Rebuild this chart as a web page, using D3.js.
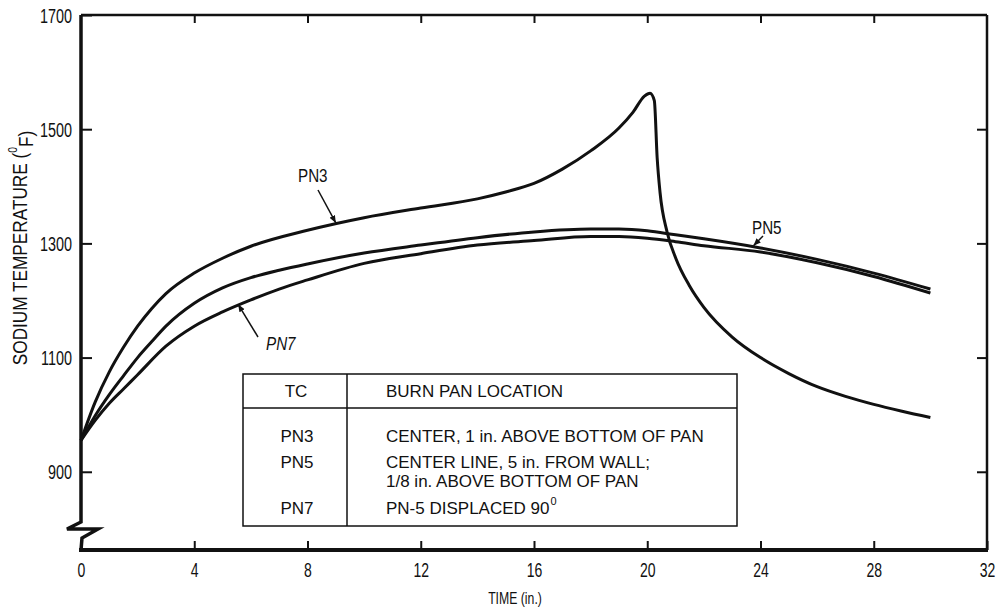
<!DOCTYPE html>
<html>
<head>
<meta charset="utf-8">
<script src="https://cdn.jsdelivr.net/npm/d3@7"></script>
<style>
  body { margin: 0; background: #fff; }
  svg text { font-family: "Liberation Sans", Arial, sans-serif; fill: #111; }
</style>
</head>
<body>
<svg id="chart" width="1003" height="611"></svg>
<script>
// time (in.) values and sodium temperatures (F)
const pn3Time = [0, 0.5, 1, 1.5, 2, 2.5, 3, 4, 5, 6, 8, 10, 12, 14, 15, 16, 17, 18, 19, 19.5, 19.9, 20.1, 20.25, 20.35, 20.45, 20.7, 21, 21.5, 22, 23, 24, 25, 26, 27, 28, 29, 30];
const pn3Temp = [955, 1022, 1075, 1118, 1155, 1186, 1212, 1248, 1274, 1295, 1323, 1345, 1362, 1378, 1390, 1405, 1430, 1462, 1502, 1530, 1558, 1563, 1550, 1450, 1390, 1320, 1275, 1225, 1188, 1136, 1100, 1072, 1049, 1032, 1018, 1006, 995];

const pn5Time = [0, 0.5, 1, 1.5, 2, 2.5, 3, 4, 5, 6, 7, 8, 10, 12, 14, 16, 18, 19, 20, 21, 22, 24, 26, 28, 30];
const pn5Temp = [955, 998, 1035, 1068, 1100, 1128, 1155, 1195, 1222, 1240, 1253, 1264, 1283, 1297, 1310, 1320, 1325, 1325, 1322, 1315, 1308, 1292, 1272, 1248, 1220];

const pn7Time = [0, 0.5, 1, 1.5, 2, 3, 4, 5, 6, 7, 8, 10, 12, 14, 16, 18, 19, 20, 21, 22, 24, 26, 28, 30];
const pn7Temp = [955, 990, 1020, 1045, 1070, 1120, 1155, 1180, 1201, 1220, 1236, 1265, 1282, 1297, 1305, 1312, 1312, 1309, 1303, 1296, 1285, 1266, 1242, 1213];

const xTicks = [0, 4, 8, 12, 16, 20, 24, 28, 32];
const yTicks = [900, 1100, 1300, 1500, 1700];

const tableHeader = ["TC", "BURN PAN LOCATION"];
const tableRows = [
    ["PN3", ["CENTER, 1 in. ABOVE BOTTOM OF PAN"]],
    ["PN5", ["CENTER LINE, 5 in. FROM WALL;", "1/8 in. ABOVE BOTTOM OF PAN"]],
    ["PN7", ["PN-5 DISPLACED 90", "0"]]
];

const svg = d3.select("#chart");

// squeeze glyphs horizontally to imitate the condensed lettering (plain texts only)
function condense(sel, k) {
    sel.each(function() {
        const len = this.getComputedTextLength();
        d3.select(this).attr("textLength", len * k).attr("lengthAdjust", "spacingAndGlyphs");
    });
}

// plot frame
const margin = { top: 15, right: 16, bottom: 61, left: 81 };
const width = 1003 - margin.left - margin.right;
const height = 611 - margin.top - margin.bottom;

const g = svg.append("g")
    .attr("transform", "translate(" + margin.left + "," + margin.top + ")");

const x = d3.scaleLinear().domain([0, 32]).range([0, width]);
const y = d3.scaleLinear().domain([763, 1700]).range([height, 0]);

// axes (ticks pointing inward)
const xAxis = g.append("g")
    .attr("transform", "translate(0," + height + ")")
    .call(d3.axisBottom(x).tickValues(xTicks).tickSizeInner(-9).tickSizeOuter(0).tickPadding(13));
const yAxis = g.append("g")
    .call(d3.axisLeft(y).tickValues(yTicks).tickFormat(d3.format("d")).tickSizeInner(-11).tickSizeOuter(0).tickPadding(9));
const topAxis = g.append("g")
    .call(d3.axisTop(x).tickValues(xTicks.slice(1, -1)).tickSizeInner(-8).tickSizeOuter(0).tickFormat(""));
const rightAxis = g.append("g")
    .attr("transform", "translate(" + width + ",0)")
    .call(d3.axisRight(y).tickValues(yTicks.slice(0, -1)).tickSizeInner(-10).tickSizeOuter(0).tickFormat(""));

[xAxis, yAxis, topAxis, rightAxis].forEach(a => {
    a.select(".domain").remove();
    a.selectAll(".tick line").attr("stroke", "#111").attr("stroke-width", 2);
    a.selectAll(".tick text").attr("font-size", 20).attr("fill", "#111").attr("font-family", null);
});
yAxis.selectAll(".tick text").attr("dy", "0.36em");
xAxis.selectAll(".tick text").attr("dy", "0.71em");
condense(xAxis.selectAll(".tick text"), 0.7);
condense(yAxis.selectAll(".tick text"), 0.72);

// frame lines, left axis has a scale break near the bottom
const breakTop = y(812);
g.append("path")
    .attr("d", "M0," + y(1700) + "V" + breakTop + "L-14," + (breakTop + 7) + "H17L1," + (breakTop + 16) + "L0," + height)
    .attr("fill", "none").attr("stroke", "#111").attr("stroke-width", 3.5).attr("stroke-linejoin", "miter");
g.append("line")
    .attr("x1", -2).attr("x2", width + 1).attr("y1", height).attr("y2", height)
    .attr("stroke", "#111").attr("stroke-width", 4);
g.append("line")
    .attr("x1", 0).attr("x2", width).attr("y1", 0).attr("y2", 0)
    .attr("stroke", "#111").attr("stroke-width", 2.5);
g.append("line")
    .attr("x1", width).attr("x2", width).attr("y1", 0).attr("y2", height)
    .attr("stroke", "#111").attr("stroke-width", 2.5);

// curves
const line = d3.line()
    .x(d => x(d[0]))
    .y(d => y(d[1]))
    .curve(d3.curveMonotoneX);

const series = [
    { name: "PN3", time: pn3Time, temp: pn3Temp },
    { name: "PN5", time: pn5Time, temp: pn5Temp },
    { name: "PN7", time: pn7Time, temp: pn7Temp }
];

g.selectAll(".curve")
    .data(series)
    .join("path")
    .attr("class", "curve")
    .attr("d", s => line(s.time.map((t, i) => [t, s.temp[i]])))
    .attr("fill", "none")
    .attr("stroke", "#111")
    .attr("stroke-width", 3);

// curve labels with arrows
svg.append("defs").append("marker")
    .attr("id", "arrow")
    .attr("viewBox", "0 0 10 10")
    .attr("refX", 10).attr("refY", 5)
    .attr("markerWidth", 5).attr("markerHeight", 5)
    .attr("orient", "auto")
    .append("path").attr("d", "M0,1L10,5L0,9Z").attr("fill", "#111");

const labels = [
    { text: "PN3", tx: 298, ty: 182, from: [318, 190], t: 9.0, s: pn3Time, v: pn3Temp, style: "normal" },
    { text: "PN5", tx: 752, ty: 234, from: [763, 236], t: 23.75, s: pn5Time, v: pn5Temp, style: "normal" },
    { text: "PN7", tx: 266, ty: 350, from: [258, 337], t: 5.55, s: pn7Time, v: pn7Temp, style: "italic" }
];

labels.forEach(l => {
    const i = d3.bisectLeft(l.s, l.t);
    const f = (l.t - l.s[i - 1]) / (l.s[i] - l.s[i - 1]);
    const temp = l.v[i - 1] + f * (l.v[i] - l.v[i - 1]);
    svg.append("line")
        .attr("x1", l.from[0]).attr("y1", l.from[1])
        .attr("x2", margin.left + x(l.t)).attr("y2", margin.top + y(temp) - 1)
        .attr("stroke", "#111").attr("stroke-width", 1.5)
        .attr("marker-end", "url(#arrow)");
    svg.append("text")
        .attr("x", l.tx).attr("y", l.ty)
        .attr("font-size", 19)
        .attr("font-style", l.style)
        .text(l.text)
        .call(condense, 0.8);
});

// axis titles
svg.append("text")
    .attr("transform", "translate(27,248) rotate(-90) scale(0.86,1)")
    .attr("text-anchor", "middle")
    .attr("font-size", 20)
    .call(t => {
        t.append("tspan").text("SODIUM TEMPERATURE (");
        t.append("tspan").attr("font-size", 12).attr("dy", "-0.8em").text("0");
        t.append("tspan").attr("dy", "0.8em").text("F)");
    });

svg.append("text")
    .attr("x", 515)
    .attr("y", 604)
    .attr("text-anchor", "middle")
    .attr("font-size", 17)
    .text("TIME (in.)")
    .call(condense, 0.72);

// legend table
const tb = { left: 243, right: 737, top: 374, head: 408, bottom: 526, divider: 347 };
const tg = svg.append("g");
tg.append("rect")
    .attr("x", tb.left).attr("y", tb.top)
    .attr("width", tb.right - tb.left).attr("height", tb.bottom - tb.top)
    .attr("fill", "#fff").attr("stroke", "#111").attr("stroke-width", 1.5);
tg.append("line")
    .attr("x1", tb.left).attr("x2", tb.right).attr("y1", tb.head).attr("y2", tb.head)
    .attr("stroke", "#111").attr("stroke-width", 1.5);
tg.append("line")
    .attr("x1", tb.divider).attr("x2", tb.divider).attr("y1", tb.top).attr("y2", tb.bottom)
    .attr("stroke", "#111").attr("stroke-width", 1.5);

tg.append("text").attr("x", 296).attr("y", 397).attr("text-anchor", "middle")
    .attr("font-size", 17).text(tableHeader[0]);
tg.append("text").attr("x", 386).attr("y", 397)
    .attr("font-size", 17).text(tableHeader[1]);

const rowY = [442, 468, 514];
tableRows.forEach((r, i) => {
    tg.append("text").attr("x", 297).attr("y", rowY[i]).attr("text-anchor", "middle")
        .attr("font-size", 17).text(r[0]);
    if (r[0] === "PN7") {
        const t = tg.append("text").attr("x", 386).attr("y", rowY[i]).attr("font-size", 17);
        t.append("tspan").text(r[1][0]);
        t.append("tspan").attr("font-size", 11).attr("dx", 1).attr("dy", "-0.8em").text(r[1][1]);
    } else {
        r[1].forEach((ln, k) => {
            tg.append("text").attr("x", 386).attr("y", rowY[i] + k * 19)
                .attr("font-size", 17).text(ln);
        });
    }
});
</script>
</body>
</html>
